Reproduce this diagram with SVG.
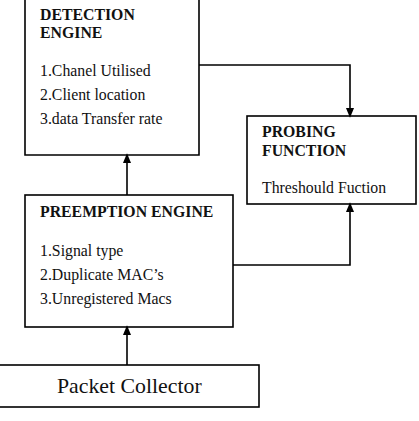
<svg xmlns="http://www.w3.org/2000/svg" width="419" height="421" viewBox="0 0 419 421">
<style>
.box{fill:#fff;stroke:#000;stroke-width:1.6}
.t{font-family:"Liberation Serif",serif;font-size:15.8px;fill:#111}
.b{font-weight:bold}
.c{fill:none;stroke:#000;stroke-width:1.6}
</style>
<defs>
<marker id="ah" markerWidth="10" markerHeight="12" refX="10" refY="5" orient="auto" markerUnits="userSpaceOnUse" viewBox="0 0 12 10">
<path d="M0,0 L12,5 L0,10 Z" fill="#000"/>
</marker>
</defs>
<rect width="419" height="421" fill="#fff"/>
<g id="detection">
<path class="box" d="M25,-2 V155 H199 V-2"/>
<text class="t b" x="40" y="20">DETECTION</text>
<text class="t b" x="40" y="38">ENGINE</text>
<text class="t" x="40" y="76">1.Chanel Utilised</text>
<text class="t" x="40" y="100">2.Client location</text>
<text class="t" x="40" y="124">3.data Transfer rate</text>
</g>
<g id="probing">
<rect class="box" x="247" y="116" width="169" height="88"/>
<text class="t b" x="262" y="137">PROBING</text>
<text class="t b" x="262" y="156">FUNCTION</text>
<text class="t" x="262" y="193">Threshould Fuction</text>
</g>
<g id="preemption">
<rect class="box" x="25" y="195" width="208" height="132"/>
<text class="t b" x="40" y="217">PREEMPTION ENGINE</text>
<text class="t" x="40" y="256">1.Signal type</text>
<text class="t" x="40" y="280">2.Duplicate MAC’s</text>
<text class="t" x="40" y="304">3.Unregistered Macs</text>
</g>
<g id="collector">
<rect class="box" x="-2" y="365" width="261" height="42"/>
<text x="57" y="393" style="font-family:'Liberation Serif',serif;font-size:21.8px;fill:#111">Packet Collector</text>
</g>
<g id="connectors">
<path class="c" d="M199,65 H350 V116" marker-end="url(#ah)"/>
<path class="c" d="M233,265 H350 V204" marker-end="url(#ah)"/>
<path class="c" d="M127,195 V155" marker-end="url(#ah)"/>
<path class="c" d="M127,365 V327" marker-end="url(#ah)"/>
</g>
</svg>
